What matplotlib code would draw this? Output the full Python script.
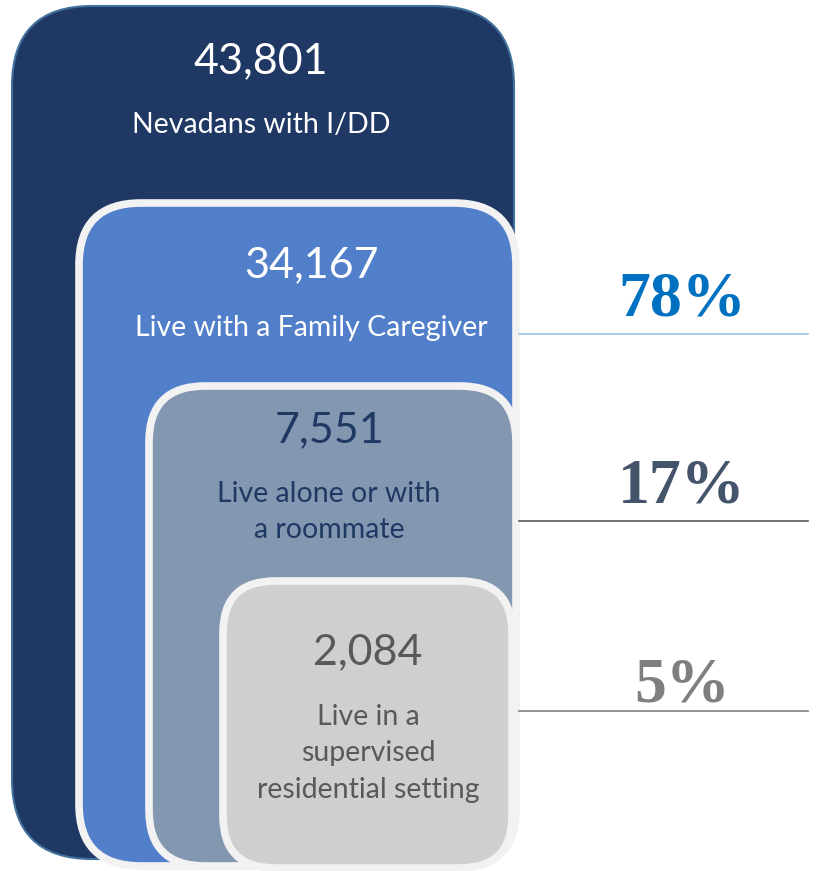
import matplotlib.pyplot as plt
from matplotlib.patches import FancyBboxPatch

# dati
conteggi = ["43,801", "34,167", "7,551", "2,084"]
etichette = ["Nevadans with I/DD", "Live with a Family Caregiver",
             "Live alone or with\na roommate", "Live in a\nsupervised\nresidential setting"]
percentuali = ["78%", "17%", "5%"]

# riquadri annidati: x0, y0, x1, y1, raggio (pixel)
riquadri = [(12, 6, 514, 859, 80), (79, 203, 516, 866, 62),
            (149, 386, 516, 866, 56), (223, 581, 512, 868, 52)]
colori = ["#203864", "#517fca", "#8497b0", "#d0cece"]
bordi = ["#41719c", "#f2f2f2", "#f2f2f2", "#f2f2f2"]
spessori = [1.5, 5.5, 5.5, 5.5]
colori_testo = ["white", "white", "#203864", "#595959"]
pos_testo = [(261, 61, 125), (311, 265, 328), (329, 430, 512), (368, 652, 753)]

fig = plt.figure(figsize=(8.16, 8.71), dpi=100)
ax = fig.add_axes([0, 0, 1, 1])
ax.set_xlim(0, 816)
ax.set_ylim(871, 0)
ax.axis("off")

for i, (x0, y0, x1, y1, r) in enumerate(riquadri):
    p = FancyBboxPatch((x0, y0), x1 - x0, y1 - y0,
                       boxstyle="round,pad=0,rounding_size=%d" % r,
                       facecolor=colori[i], edgecolor=bordi[i], linewidth=spessori[i])
    ax.add_patch(p)
    xt, yn, yl = pos_testo[i]
    ax.text(xt, yn, conteggi[i], color=colori_testo[i], fontsize=31,
            family="Lato", ha="center", va="center")
    ax.text(xt, yl, etichette[i], color=colori_testo[i], fontsize=20.5,
            family="Lato", ha="center", va="center", linespacing=1.5)

# percentuali a destra con linee
col_perc = ["#0070c0", "#44546a", "#7f7f7f"]
col_linee = ["#9dc3e6", "#595959", "#7f7f7f"]
y_perc = [300, 487, 686]
y_linee = [334, 521, 711]
for i in range(3):
    ax.text(682, y_perc[i], percentuali[i], color=col_perc[i], fontsize=46,
            family="Liberation Serif", weight="bold", ha="center", va="center")
    ax.plot([519, 808], [y_linee[i], y_linee[i]], color=col_linee[i], linewidth=1.2)

fig.savefig("out.png", dpi=100)
